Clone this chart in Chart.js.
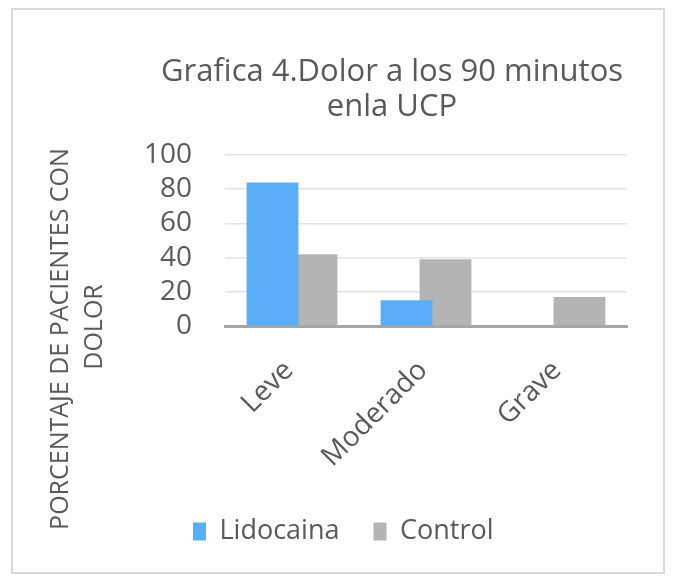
<!DOCTYPE html>
<html>
<head>
<meta charset="utf-8">
<script src="https://cdn.jsdelivr.net/npm/chart.js@4/dist/chart.umd.min.js"></script>
<style>
  html, body { margin: 0; padding: 0; background: #ffffff; }
  #wrap { position: relative; width: 673px; height: 581px; }
  canvas { display: block; }
</style>
</head>
<body>
<div id="wrap"><canvas id="c" width="673" height="581"></canvas></div>
<script>
const categories = ["Leve", "Moderado", "Grave"];
const lidocaina = [84, 15, 0];
const control = [42, 39, 17];
const yTicks = [0, 20, 40, 60, 80, 100];
const titleLines = ["Grafica 4.Dolor a los 90 minutos", "enla UCP"];
const yTitleLines = ["PORCENTAJE DE PACIENTES CON", "DOLOR"];
const seriesNames = ["Lidocaina", "Control"];

const FONT = "'Open Sans', sans-serif";
const TEXT = "#595959";

const framePlugin = {
  id: 'frame',
  beforeDraw(chart) {
    const ctx = chart.ctx;
    ctx.save();
    ctx.fillStyle = '#ffffff';
    ctx.fillRect(0, 0, chart.width, chart.height);
    ctx.strokeStyle = '#d9d9d9';
    ctx.lineWidth = 2;
    ctx.strokeRect(12, 9, 652, 564);
    ctx.restore();
  },
  afterLayout(chart) {
    if (chart.titleBlock) {
      chart.titleBlock.left = 157;
      chart.titleBlock.right = 627;
    }
    if (chart.legend) {
      chart.legend.left = 159;
    }
  },
  afterDraw(chart) {
    const ctx = chart.ctx;
    const draw = (txt, x, y) => {
      ctx.save();
      ctx.fillStyle = TEXT;
      ctx.font = "25px " + FONT;
      ctx.textAlign = 'center';
      ctx.textBaseline = 'middle';
      ctx.translate(x, y);
      ctx.rotate(-Math.PI / 2);
      ctx.fillText(txt, 0, 0);
      ctx.restore();
    };
    draw(yTitleLines[0], 61, 339);
    draw(yTitleLines[1], 95, 327);
  }
};

new Chart(document.getElementById('c'), {
  type: 'bar',
  data: {
    labels: categories,
    datasets: [
      { label: seriesNames[0], data: lidocaina, backgroundColor: '#5aaef8', borderWidth: 0 },
      { label: seriesNames[1], data: control, backgroundColor: '#b4b4b4', borderWidth: 0 }
    ]
  },
  options: {
    responsive: false,
    animation: false,
    devicePixelRatio: 1,
    categoryPercentage: 0.582,
    barPercentage: 1.33,
    layout: { padding: { left: 140, right: 46, top: 55, bottom: 26 } },
    plugins: {
      tooltip: { enabled: false },
      title: {
        display: true,
        text: titleLines,
        color: TEXT,
        font: { family: FONT, size: 31, weight: 'normal', lineHeight: 1.13 },
        padding: { top: 0, bottom: 30 }
      },
      legend: {
        display: true,
        position: 'bottom',
        align: 'start',
        labels: {
          boxWidth: 13,
          boxHeight: 18,
          padding: 34,
          color: TEXT,
          font: { family: FONT, size: 27 }
        }
      }
    },
    scales: {
      x: {
        afterFit(scale) { scale.height = 158; },
        grid: { display: false, drawTicks: false },
        border: { display: true, color: '#a6a6a6', width: 3 },
        ticks: {
          color: TEXT,
          font: { family: FONT, size: 28 },
          maxRotation: 45,
          minRotation: 45,
          autoSkip: false,
          labelOffset: -3,
          padding: 28
        }
      },
      y: {
        min: 0,
        max: 100,
        afterFit(scale) { scale.width = 85; },
        afterBuildTicks(scale) { scale.ticks = yTicks.map(v => ({ value: v })); },
        grid: {
          drawTicks: false,
          color: ctx => (ctx.tick && ctx.tick.value === 0) ? 'rgba(0,0,0,0)' : '#e4e4e4',
          lineWidth: 1.5
        },
        border: { display: false },
        ticks: {
          color: TEXT,
          font: { family: FONT, size: 28 },
          autoSkip: false,
          padding: 33
        }
      }
    }
  },
  plugins: [framePlugin]
});
</script>
</body>
</html>
